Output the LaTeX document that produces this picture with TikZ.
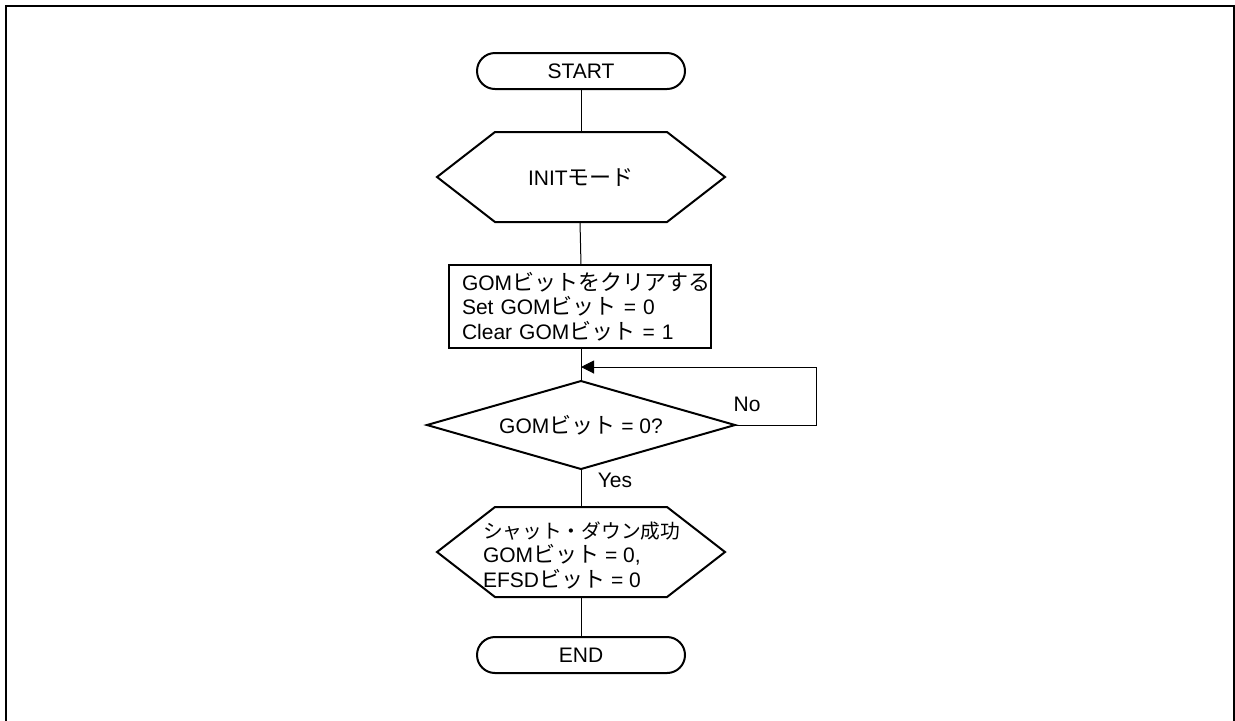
\documentclass[tikz,border=0pt]{standalone}
\usepackage{fontspec}
\setmainfont{Liberation Sans}
\newfontfamily\jpfont{Noto Sans CJK JP}[Scale=1.05]
\usetikzlibrary{arrows.meta,calc}
\tikzset{
  base/.style={font=\fontsize{10.5pt}{12.25pt}\selectfont, inner sep=0pt, outer sep=0pt},
  term/.style={base, draw, line width=1pt, rounded corners=9pt, minimum width=104pt, minimum height=18pt},
  hexnode/.style={base, minimum width=144pt, minimum height=45pt},
  shapeline/.style={line width=1pt, line join=miter},
  procbox/.style={base, draw, line width=1pt, text width=118pt, inner xsep=6.5pt, align=left, minimum height=41.5pt},
  conn/.style={line width=0.5pt},
  arrowconn/.style={line width=0.5pt, -{Triangle[length=6.5pt,width=6.5pt]}},
  lbl/.style={base},
}
\begin{document}
\begin{tikzpicture}[x=0.5pt,y=-0.5pt]
\useasboundingbox (0,0) rectangle (1235,720);
\begin{scope}
\clip (0,0) rectangle (1235,720);
\draw[line width=1pt] (6,6) rectangle (1234,740);
\end{scope}

% nodes
\node[term] (start) at (581,71) {START};
\node[hexnode] (init) at (581,177) {INIT{\jpfont モード}};
\draw[shapeline] (init.west) -- ([xshift=29pt]init.north west) -- ([xshift=-29pt]init.north east) -- (init.east) -- ([xshift=-29pt]init.south east) -- ([xshift=29pt]init.south west) -- cycle;

\node[procbox] (box) at (580,306.5) {GOM{\jpfont ビットをクリアする}\\Set GOM{\jpfont ビット} = 0\\Clear GOM{\jpfont ビット} = 1};

\node[base, minimum width=154pt, minimum height=44pt] (dec) at (581,425) {GOM{\jpfont ビット} = 0?};
\draw[shapeline] (dec.west) -- (dec.north) -- (dec.east) -- (dec.south) -- cycle;

\node[hexnode] (shut) at (581,552) {};
\draw[shapeline] (shut.west) -- ([xshift=29pt]shut.north west) -- ([xshift=-29pt]shut.north east) -- (shut.east) -- ([xshift=-29pt]shut.south east) -- ([xshift=29pt]shut.south west) -- cycle;
\node[base, anchor=west, align=left] (shuttext) at (483,555) {{\fontsize{9.4pt}{12.25pt}\selectfont\jpfont シャット・ダウン成功}\\GOM{\jpfont ビット} = 0,\\EFSD{\jpfont ビット} = 0};

\node[term] (endn) at (581,655) {END};

% loop coordinates
\coordinate (r1) at (816,425);
\coordinate (r2) at (816,367);
\coordinate (m) at (581,367);

% connectors
\draw[conn] (start.south) -- (init.north);
\draw[conn] (init.south) -- (box.south |- init.south) -- (box.north -| init.south);
\draw[conn] (box.south -| dec.north) -- (dec.north);
\draw[arrowconn] (dec.east) -- (r1) -- (r2) -- (m);
\draw[conn] (dec.south) -- (shut.north);
\draw[conn] (shut.south) -- (endn.north);

% labels
\node[lbl] (no) at (747,404) {No};
\node[lbl] (yes) at (615,480) {Yes};
\end{tikzpicture}
\end{document}
